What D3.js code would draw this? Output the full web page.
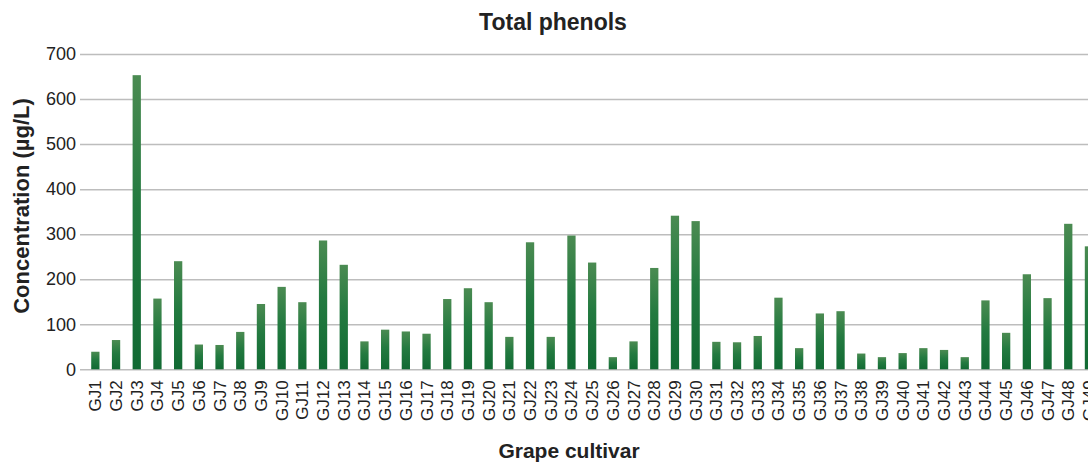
<!DOCTYPE html>
<html>
<head>
<meta charset="utf-8">
<script src="https://cdn.jsdelivr.net/npm/d3@7"></script>
<style>
  body { margin: 0; background: #fff; }
  text { font-family: "Liberation Sans", Arial, sans-serif; fill: #222; }
</style>
</head>
<body>
<div id="chart"></div>
<script>
// cultivars GJ1..GJ49 (chart is cut off at the right edge)
var cultivars = ["GJ1","GJ2","GJ3","GJ4","GJ5","GJ6","GJ7","GJ8","GJ9","GJ10",
  "GJ11","GJ12","GJ13","GJ14","GJ15","GJ16","GJ17","GJ18","GJ19","GJ20",
  "GJ21","GJ22","GJ23","GJ24","GJ25","GJ26","GJ27","GJ28","GJ29","GJ30",
  "GJ31","GJ32","GJ33","GJ34","GJ35","GJ36","GJ37","GJ38","GJ39","GJ40",
  "GJ41","GJ42","GJ43","GJ44","GJ45","GJ46","GJ47","GJ48","GJ49"];

// total phenols, µg/L
var phenols = [39, 65, 653, 157, 240, 55, 54, 83, 145, 183,
  149, 286, 232, 62, 88, 84, 79, 156, 180, 149,
  72, 282, 72, 297, 237, 27, 62, 225, 341, 329,
  61, 60, 74, 159, 47, 124, 129, 35, 27, 36,
  47, 43, 27, 153, 81, 211, 158, 323, 273];

var yTicks = [0, 100, 200, 300, 400, 500, 600, 700];

var totalWidth = 1088, totalHeight = 465;
var plotLeft = 85, step = 20.7;
var plotTop = 54, plotBottom = 369.3;

var data = cultivars.map(function(c, i) { return {name: c, value: phenols[i]}; });

var svg = d3.select("#chart").append("svg")
    .attr("width", totalWidth)
    .attr("height", totalHeight);

var x = d3.scaleBand()
    .domain(cultivars)
    .range([plotLeft, plotLeft + cultivars.length * step])
    .paddingInner(0.6)
    .paddingOuter(0.3);

var y = d3.scaleLinear()
    .domain([0, 700])
    .range([plotBottom, plotTop]);

var defs = svg.append("defs");
var grad = defs.append("linearGradient")
    .attr("id", "barGrad")
    .attr("x1", 0).attr("y1", 0).attr("x2", 0).attr("y2", 1);
grad.append("stop").attr("offset", "0%").attr("stop-color", "#4b8b52");
grad.append("stop").attr("offset", "45%").attr("stop-color", "#237a40");
grad.append("stop").attr("offset", "100%").attr("stop-color", "#116a33");

// grid + y axis
var yAxis = svg.append("g")
    .attr("class", "axis axis--y")
    .attr("transform", "translate(" + plotLeft + ",0)")
    .call(d3.axisLeft(y)
      .tickValues(yTicks)
      .tickSize(-(totalWidth - plotLeft + 20))
      .tickPadding(9)
      .tickFormat(d3.format("d")));
yAxis.select(".domain").remove();
yAxis.selectAll(".tick line")
    .attr("x1", -5)
    .attr("stroke", "#bdbdbd")
    .attr("stroke-width", 1.5);
yAxis.selectAll(".tick text")
    .attr("font-size", 18)
    .style("fill", "#222");

// bars
svg.append("g").selectAll("rect")
  .data(data)
  .enter().append("rect")
    .attr("x", function(d) { return x(d.name); })
    .attr("y", function(d) { return y(d.value); })
    .attr("width", x.bandwidth())
    .attr("height", function(d) { return y(0) - y(d.value); })
    .attr("fill", "url(#barGrad)");

// x labels, rotated
var xAxis = svg.append("g")
    .attr("class", "axis axis--x")
    .attr("transform", "translate(0," + plotBottom + ")")
    .call(d3.axisBottom(x).tickSize(0).tickPadding(0));
xAxis.select(".domain").remove();
xAxis.selectAll(".tick text")
    .attr("font-size", 17)
    .attr("transform", "rotate(-90)")
    .attr("text-anchor", "end")
    .attr("x", -11)
    .attr("y", 0)
    .attr("dy", "0.35em")
    .style("fill", "#222");

// titles
svg.append("text")
    .attr("x", 553)
    .attr("y", 30)
    .attr("text-anchor", "middle")
    .attr("font-size", 23)
    .attr("font-weight", "bold")
    .text("Total phenols");

svg.append("text")
    .attr("x", 569)
    .attr("y", 458)
    .attr("text-anchor", "middle")
    .attr("font-size", 21)
    .attr("font-weight", "bold")
    .text("Grape cultivar");

svg.append("text")
    .attr("transform", "translate(29,206) rotate(-90)")
    .attr("text-anchor", "middle")
    .attr("font-size", 22)
    .attr("font-weight", "bold")
    .text("Concentration (µg/L)");
</script>
</body>
</html>
